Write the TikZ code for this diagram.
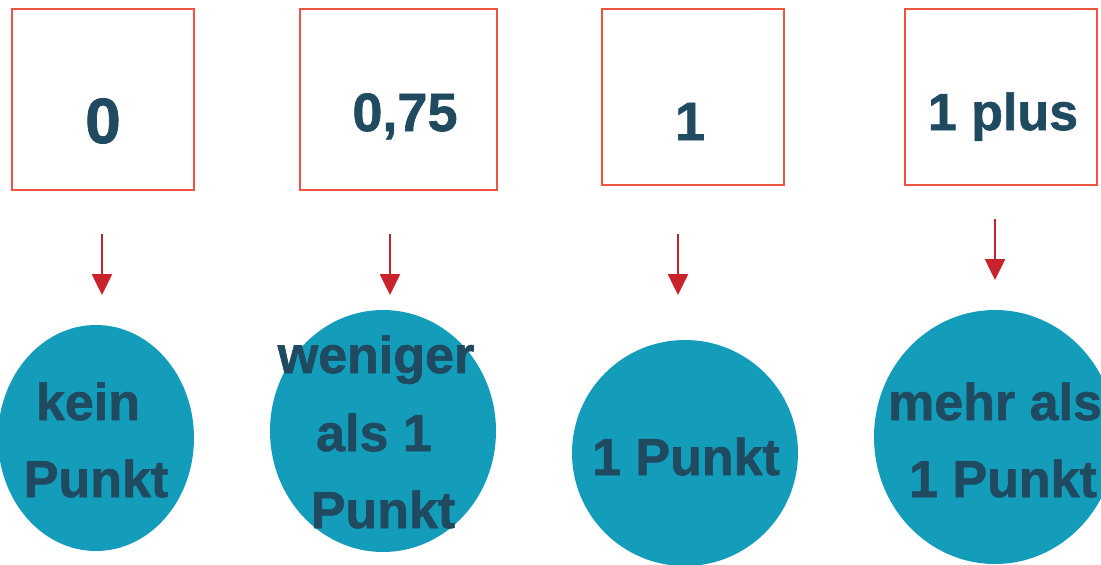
\documentclass[tikz,border=0pt]{standalone}
\usepackage{fontspec}
\setmainfont{Liberation Sans}[BoldFeatures={FakeBold=1.2}]
\usetikzlibrary{arrows.meta,shapes.geometric}
\definecolor{boxred}{HTML}{EE5440}
\definecolor{arrred}{HTML}{C8232C}
\definecolor{circblue}{HTML}{149DBB}
\definecolor{txtblue}{HTML}{1F4A60}
\tikzset{
  valbox/.style={draw=boxred, line width=2pt, fill=white, rectangle, inner sep=0pt, anchor=north west},
  disc/.style={fill=circblue, draw=none, ellipse, inner sep=0pt},
  txt/.style={text=txtblue, font=\bfseries\fontsize{52}{62}\selectfont, inner sep=0pt, anchor=base},
  bigtxt/.style={txt, font=\bfseries\fontsize{64}{74}\selectfont},
  midtxt/.style={txt, font=\bfseries\fontsize{54}{64}\selectfont},
  arr/.style={draw=arrred, line width=2.6pt, -{Triangle[width=20pt,length=21pt]}, arrred}
}
\begin{document}
\begin{tikzpicture}[x=1pt,y=-1pt]
\useasboundingbox (0,0) rectangle (1101,565);
% boxes
\node[valbox, minimum width=182pt, minimum height=181pt] (b1) at (11,8) {};
\node[valbox, minimum width=197pt, minimum height=181pt] (b2) at (299,8) {};
\node[valbox, minimum width=182pt, minimum height=176pt] (b3) at (601,8) {};
\node[valbox, minimum width=192pt, minimum height=176pt] (b4) at (904,8) {};
\node[bigtxt] (t1) at (103,143) {0};
\node[midtxt] (t2) at (405,131) {0,75};
\node[midtxt] (t3) at (690,140) {1};
\node[txt] (t4) at (1003,130) {1 plus};
% discs
\node[disc, minimum width=196pt, minimum height=226pt] (c1) at (96,438) {};
\node[disc, minimum width=226pt, minimum height=242pt] (c2) at (383,431) {};
\node[disc, minimum width=226pt, minimum height=226pt] (c3) at (685,453) {};
\node[disc, minimum width=242pt, minimum height=254pt] (c4) at (995,437) {};
\node[txt] (k1) at (88,420) {kein};
\node[txt] (k2) at (96,497) {Punkt};
\node[txt] (w1) at (376,373) {weniger};
\node[txt] (w2) at (374,451) {als 1};
\node[txt] (w3) at (383,528) {Punkt};
\node[txt] (e1) at (686,475) {1 Punkt};
\node[txt] (m1) at (995,420) {mehr als};
\node[txt] (m2) at (1003,497) {1 Punkt};
% arrows
\coordinate (a1s) at (102,234); \coordinate (a1e) at (102,295);
\coordinate (a2s) at (390,234); \coordinate (a2e) at (390,295);
\coordinate (a3s) at (678,234); \coordinate (a3e) at (678,295);
\coordinate (a4s) at (995,219); \coordinate (a4e) at (995,280);
\draw[arr] (a1s) -- (a1e);
\draw[arr] (a2s) -- (a2e);
\draw[arr] (a3s) -- (a3e);
\draw[arr] (a4s) -- (a4e);
\end{tikzpicture}
\end{document}
